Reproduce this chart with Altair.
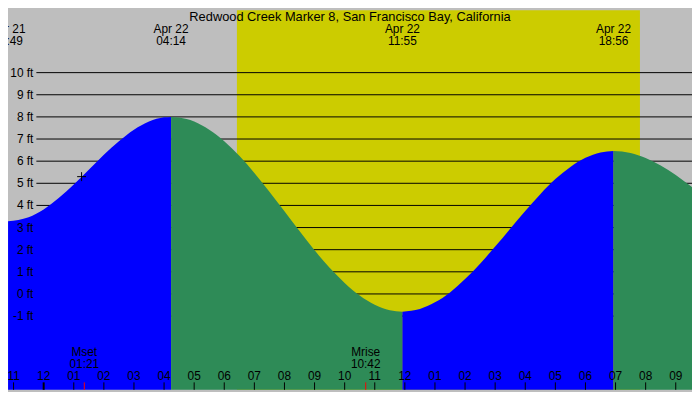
import altair as alt
import pandas as pd

# times are hours after midnight, 22 Apr; heights in feet
title = "Redwood Creek Marker 8, San Francisco Bay, California"

flood1_h = [-1.183, -0.5, 0.0, 0.5, 1.0, 1.5, 2.0, 2.5, 3.0, 3.5, 4.0, 4.233]
flood1_ft = [3.29, 3.47, 3.82, 4.33, 4.94, 5.61, 6.29, 6.90, 7.42, 7.79, 7.98, 8.0]
ebb1_h = [4.233, 4.5, 5.0, 5.5, 6.0, 6.5, 7.0, 7.5, 8.0, 8.5, 9.0, 9.5,
          10.0, 10.5, 11.0, 11.5, 11.917]
ebb1_ft = [8.0, 7.97, 7.79, 7.42, 6.90, 6.24, 5.47, 4.62, 3.74, 2.84, 1.97,
           1.18, 0.50, -0.07, -0.49, -0.74, -0.80]
flood2_h = [11.917, 12.5, 13.0, 13.5, 14.0, 14.5, 15.0, 15.5, 16.0, 16.5,
            17.0, 17.5, 18.0, 18.5, 18.933]
flood2_ft = [-0.80, -0.68, -0.38, 0.07, 0.67, 1.37, 2.14, 2.95, 3.75, 4.51,
             5.19, 5.74, 6.15, 6.39, 6.46]
ebb2_h = [18.933, 19.5, 20.0, 20.5, 21.0, 21.54]
ebb2_ft = [6.46, 6.37, 6.14, 5.80, 5.38, 4.83]

# high / low tide labels
extreme_h = [-1.183, 4.233, 11.917, 18.933]
extreme_day = ["Apr 21", "Apr 22", "Apr 22", "Apr 22"]
extreme_time = ["22:49", "04:14", "11:55", "18:56"]

sunrise, sunset = 6.42, 19.81

moon_h = [1.35, 10.7]
moon_event = ["Mset", "Mrise"]
moon_time = ["01:21", "10:42"]

now_h, now_ft = 1.26, 5.3

grid_ft = list(range(-1, 11))
grid_labels = [f"{v} ft" for v in grid_ft]

hour_ticks = list(range(-1, 22))
hour_labels = ["11", "12", "01", "02", "03", "04", "05", "06", "07", "08",
               "09", "10", "11", "12", "01", "02", "03", "04", "05", "06",
               "07", "08", "09"]

W, H = 692, 384
FONT = "Liberation Sans"
FLOOD, EBB = "#0000ff", "#2e8b57"

x_scale = alt.Scale(domain=[-1.185, 21.54], nice=False, zero=False)
y_scale = alt.Scale(domain=[-4.33, 12.82], nice=False, zero=False)
X = lambda f: alt.X(f, scale=x_scale, axis=None)
Y = lambda f: alt.Y(f, scale=y_scale, axis=None)

sun = alt.Chart(pd.DataFrame({"a": [sunrise], "b": [sunset]})).mark_rect(
    color="#cccc00").encode(x=X("a:Q"), x2="b:Q", y=alt.value(0), y2=alt.value(H))

grid = alt.Chart(pd.DataFrame({"ft": grid_ft})).mark_rule(
    color="black", strokeWidth=1).encode(
    y=Y("ft:Q"), x=alt.value(28.7), x2=alt.value(W))


def water(hs, fts, colour):
    return alt.Chart(pd.DataFrame({"h": hs, "ft": fts})).mark_area(
        interpolate="monotone", color=colour, opacity=1).encode(
        x=X("h:Q"), y=Y("ft:Q"), y2=alt.datum(-4.33))


tide = [water(flood1_h, flood1_ft, FLOOD), water(ebb1_h, ebb1_ft, EBB),
        water(flood2_h, flood2_ft, FLOOD), water(ebb2_h, ebb2_ft, EBB)]

txt = dict(font=FONT, fontSize=12, color="black", baseline="middle")

ft_text = alt.Chart(pd.DataFrame({"ft": grid_ft, "t": grid_labels})).mark_text(
    align="right", **txt).encode(y=Y("ft:Q"), x=alt.value(25.7), text="t:N")

ext = pd.DataFrame({"h": extreme_h, "d": extreme_day, "t": extreme_time})
ext_day = alt.Chart(ext).mark_text(align="center", **txt).encode(
    x=X("h:Q"), y=alt.value(19), text="d:N")
ext_time = alt.Chart(ext).mark_text(align="center", **txt).encode(
    x=X("h:Q"), y=alt.value(31), text="t:N")

head = alt.Chart(pd.DataFrame({"t": [title]})).mark_text(
    align="center", font=FONT, fontSize=13, color="black", baseline="middle"
).encode(x=alt.value(W / 2), y=alt.value(6.5), text="t:N")

hours = pd.DataFrame({"h": hour_ticks, "t": hour_labels})
hour_text = alt.Chart(hours).mark_text(align="center", **txt).encode(
    x=X("h:Q"), y=alt.value(370), text="t:N")
hour_tick = alt.Chart(hours).mark_rule(color="black").encode(
    x=X("h:Q"), y=alt.value(376.5), y2=alt.value(H),
    strokeWidth=alt.condition("datum.h == 0", alt.value(2), alt.value(1)))

moon = pd.DataFrame({"h": moon_h, "e": moon_event, "t": moon_time})
moon_event_text = alt.Chart(moon).mark_text(align="center", **txt).encode(
    x=X("h:Q"), y=alt.value(346), text="e:N")
moon_time_text = alt.Chart(moon).mark_text(align="center", **txt).encode(
    x=X("h:Q"), y=alt.value(358), text="t:N")
moon_tick = alt.Chart(moon).mark_rule(color="red", strokeWidth=1).encode(
    x=X("h:Q"), y=alt.value(376.5), y2=alt.value(H))

now = alt.Chart(pd.DataFrame({"h": [now_h], "ft": [now_ft]})).mark_point(
    shape="M-1,0H1M0,-1V1", size=81, filled=False, color="black",
    strokeWidth=1, opacity=1).encode(x=X("h:Q"), y=Y("ft:Q"))

chart = alt.layer(
    sun, grid, *tide, ft_text, ext_day, ext_time, head,
    hour_text, hour_tick, moon_event_text, moon_time_text, moon_tick, now
).properties(
    width=W, height=H, autosize="none", padding=0, background="#bebebe"
).configure_view(strokeWidth=0)

chart.save("out.html", embed_options={"renderer": "svg", "actions": False})
